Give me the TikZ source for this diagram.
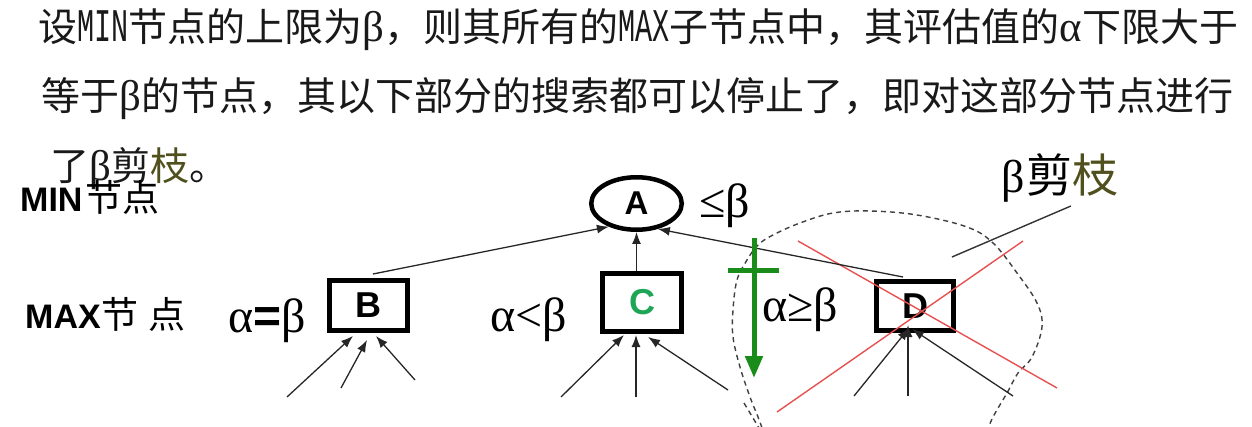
\documentclass[tikz,border=0pt]{standalone}
\usepackage{graphicx}
\usepackage{fontspec}
\setmainfont{Liberation Serif}
\newfontfamily\cjk{Noto Sans CJK SC}
\newfontfamily\arialf{Liberation Sans}
\newfontfamily\monof{Liberation Mono}
\usetikzlibrary{shapes.geometric,arrows.meta,calc}
\definecolor{olivetxt}{RGB}{80,80,30}
\definecolor{ggreen}{RGB}{25,140,25}
\definecolor{cgreen}{RGB}{30,165,85}
\definecolor{xred}{RGB}{230,80,80}
\definecolor{txt}{RGB}{25,25,25}
\newcommand{\zhT}[1]{{\cjk #1}}
\newcommand{\grT}[1]{\scalebox{1.1}{\rmfamily #1}}
\newcommand{\mnT}[1]{\scalebox{0.73}[1.2]{\monof #1}}
\begin{document}
\begin{tikzpicture}[x=1pt,y=-1pt,
  toptext/.style={anchor=base west,inner sep=0pt,text=txt,font=\fontsize{39}{41}\selectfont},
  sidelab/.style={anchor=base west,inner sep=0pt,text=black,font=\fontsize{34}{36}\selectfont},
  rel/.style={anchor=base west,inner sep=0pt,text=black,font=\fontsize{48}{50}\selectfont},
  minnode/.style={ellipse,draw,line width=4.5pt,minimum width=90.5pt,minimum height=52.5pt,inner sep=0pt,font=\arialf\bfseries\fontsize{33}{33}\selectfont},
  maxnode/.style={rectangle,draw,line width=5pt,inner sep=0pt,font=\arialf\bfseries\fontsize{36}{36}\selectfont},
  conn/.style={-{Latex[length=12pt,width=9pt]},line width=1.3pt,draw=black!85},
  cutline/.style={line width=1.4pt,draw=xred},
  region/.style={line width=1.4pt,draw=black!75,dash pattern=on 5pt off 4pt},
  stoparrow/.style={line width=5pt,draw=ggreen,-{Triangle[length=22pt,width=17pt]}},
  stopbar/.style={line width=5pt,draw=ggreen},
  annot/.style={line width=1.4pt,draw=black!80}]
\useasboundingbox (0,0) rectangle (1252,427);
\clip (0,0) rectangle (1252,427);
% top text
\node[toptext] (t1) at (38,42) {\zhT{设}\mnT{MIN}\zhT{节点的上限为}\grT{β}\zhT{，则其所有的}\mnT{MAX}\zhT{子节点中，其评估值的}\grT{α}\zhT{下限大于}};
\node[toptext] (t2) at (41,111) {\zhT{等于}\grT{β}\zhT{的节点，其以下部分的搜索都可以停止了，即对这部分节点进行}};
\node[toptext] (t3) at (50,181) {\zhT{了}\grT{β}\zhT{剪}\textcolor{olivetxt}{\zhT{枝}}\zhT{。}};
% side labels
\node[sidelab] (minlab) at (20,212) {{\arialf\bfseries MIN}\hspace{3pt}{\fontsize{37}{38}\selectfont\zhT{节点}}};
\node[sidelab] (maxlab) at (25,328) {{\arialf\bfseries MAX}\hspace{1pt}{\fontsize{37}{38}\selectfont\zhT{节\hspace{10pt}点}}};
% nodes
\node[minnode] (A) at (636.5,203.5) {A};
\node[maxnode,minimum width=78pt,minimum height=50pt] (B) at (368.5,305.5) {B};
\node[maxnode,minimum width=79pt,minimum height=58pt,text=cgreen] (C) at (642,302.5) {C};
\node[maxnode,minimum width=77pt,minimum height=49pt] (D) at (915,306) {D};
% relation labels
\node[rel] (rB) at (228,332) {α{\arialf\bfseries =}β};
\node[rel] (rC) at (490,331) {α<β};
\node[rel] (rD) at (762,322) {α≥β};
\node[rel] (rA) at (699,218) {≤β};
\node[anchor=base west,inner sep=0pt,font=\fontsize{46}{48}\selectfont] (bcut) at (1001,193) {{\rmfamily β}\hspace{2pt}\zhT{剪}\textcolor{olivetxt}{\zhT{枝}}};
% region and cut marks
\draw[region] plot[smooth,tension=0.6] coordinates {(765,436) (758,417) (750,397) (740,367) (733,337) (733,310) (737,280) (747,260) (758,245) (773,235) (800,223) (833,213) (870,211) (917,215) (967,227) (993,243) (1017,273) (1037,303) (1042,327) (1032,357) (1018,373) (1007,393) (993,417) (985,436)};
\coordinate (rs1) at (744,403);
\coordinate (rs2) at (759,428);
\draw[region] (rs1) -- (rs2);
\coordinate (x1a) at (798,241);
\coordinate (x1b) at (1057,388);
\coordinate (x2a) at (1023,241);
\coordinate (x2b) at (777,412);
\draw[cutline] (x1a) -- (x1b);
\draw[cutline] (x2a) -- (x2b);
% edges to A
\draw[conn] ($(B.north)+(4.5,-4)$) -- (A.220);
\draw[conn] (A.south |- C.north) -- (A.south);
\draw[conn] ($(D.north)+(-12,-2)$) -- (A.310);
% children of B
\coordinate (bc1) at (287,397);
\coordinate (bc2) at (341,388);
\coordinate (bc3) at (415,380);
\draw[conn] (bc1) -- ($(B.south)+(-15.5,3)$);
\draw[conn] (bc2) -- ($(B.south)+(-1.5,7)$);
\draw[conn] (bc3) -- ($(B.south)+(7.5,3)$);
% children of C
\coordinate (cc1) at (561,397);
\coordinate (cc2) at (636,397);
\coordinate (cc3) at (728,390);
\draw[conn] (cc1) -- ($(C.south)+(-18,1)$);
\draw[conn] (cc2) -- ($(C.south)+(-6,1)$);
\draw[conn] (cc3) -- ($(C.south)+(6,3)$);
% children of D
\coordinate (dc1) at (854,396);
\coordinate (dc2) at (908,396);
\coordinate (dc3) at (1013,396);
\draw[conn] (dc1) -- ($(D.south)+(-6,-5)$);
\draw[conn] (dc2) -- ($(D.south)+(-7,-8)$);
\draw[conn] (dc3) -- ($(D.south)+(-3,-4)$);
% beta cut
\coordinate (g1) at (754,238);
\coordinate (g2) at (754,378);
\coordinate (gb1) at (728,271);
\coordinate (gb2) at (779,271);
\draw[stoparrow] (g1) -- (g2);
\draw[stopbar] (gb1) -- (gb2);
% annotation
\coordinate (ann) at (952,257);
\draw[annot] ($(bcut.south)+(11,3)$) -- (ann);
\end{tikzpicture}
\end{document}
